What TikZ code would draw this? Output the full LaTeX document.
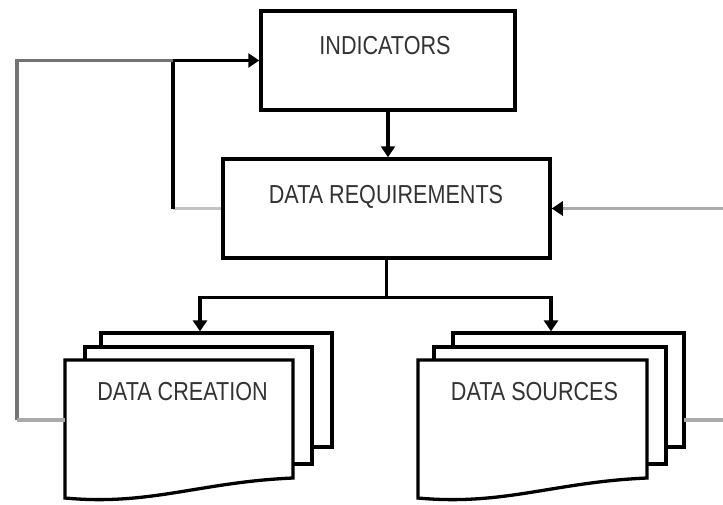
\documentclass[tikz,border=0pt]{standalone}
\usepackage{fontspec}
\setmainfont{Liberation Sans}
\usetikzlibrary{arrows.meta}
\definecolor{gdark}{HTML}{747474}
\definecolor{gmid}{HTML}{AAAAAA}
\definecolor{glight}{HTML}{C4C4C4}
\newcommand\narrowtxt[1]{\scalebox{0.83}[1]{#1}}
\tikzset{
  boxnode/.style={draw=black, line width=3.5pt, fill=white, inner sep=0pt, rectangle},
  sheet/.style={draw=black, line width=3.3pt, fill=white, inner sep=0pt, rectangle},
  lbl/.style={anchor=base, inner sep=0pt, text=black!80, font=\fontsize{26}{30}\selectfont},
  blk/.style={draw=black, line width=3.2pt},
  gline/.style={line width=3.4pt},
  tip/.style={-{Triangle[length=11pt,width=14pt,color=black]}}
}
\begin{document}
\begin{tikzpicture}[x=1pt,y=-1pt]
\useasboundingbox (0,0) rectangle (723,504);
% boxes
\node[boxnode, minimum width=254pt, minimum height=99pt] (ind) at (388,60.5) {};
\node[boxnode, minimum width=327pt, minimum height=99pt] (req) at (386.5,208.5) {};
\node[lbl] (indl) at (385,54) {\narrowtxt{INDICATORS}};
\node[lbl] (reql) at (386,203) {\narrowtxt{DATA REQUIREMENTS}};
% DATA CREATION stack
\node[sheet, minimum width=231pt, minimum height=114pt] (cback) at (216.5,390) {};
\node[sheet, minimum width=227pt, minimum height=117pt] (cmid) at (198.5,405.5) {};
\draw[sheet] (65,360) coordinate (cfNW) -- (293,360) -- (293,478)
  .. controls (200,482) and (150,506) .. (65,498) -- cycle;
\coordinate (cfW) at (65,420);
\node[lbl] (cl) at (182.5,400) {\narrowtxt{DATA CREATION}};
% DATA SOURCES stack
\node[sheet, minimum width=231pt, minimum height=114pt] (sback) at (568.5,390) {};
\node[sheet, minimum width=232pt, minimum height=117pt] (smid) at (550,405.5) {};
\draw[sheet] (418,360) coordinate (sfNW) -- (647,360) -- (647,478)
  .. controls (554,482) and (504,506) .. (418,498) -- cycle;
\node[lbl] (sl) at (534.5,400) {\narrowtxt{DATA SOURCES}};
% coordinates for free ends and bends
\coordinate (lx) at (173,208.5);
\coordinate (lt) at (173,60.5);
\coordinate (ox) at (17,60.5);
\coordinate (ob) at (17,420);
\coordinate (rr) at (723,208.5);
\coordinate (rs) at (723,420);
\coordinate (sE) at (684,420);
% indicators -> requirements
\draw[blk, tip] (ind.south) -- (ind.south |- req.north);
% left feedback loop
\draw[glight, gline] (req.west) -- (lx);
\draw[blk, tip] (lx) -- (lt) -- (ind.west);
\draw[gdark, gline] (lt) -- (ox) -- (ob);
\draw[gmid, gline] (ob) -- (cfW);
% right feedback
\draw[gmid, gline, tip] (rr) -- (req.east);
\draw[gmid, gline] (sE) -- (rs);
% tree down
\draw[blk] (req.south) -- ++(0,37.5) coordinate (junc);
\draw[blk, tip] (junc) -| ([xshift=-16.5pt]cback.north);
\draw[blk, tip] (junc) -| ([xshift=-17.5pt]sback.north);
\end{tikzpicture}
\end{document}
